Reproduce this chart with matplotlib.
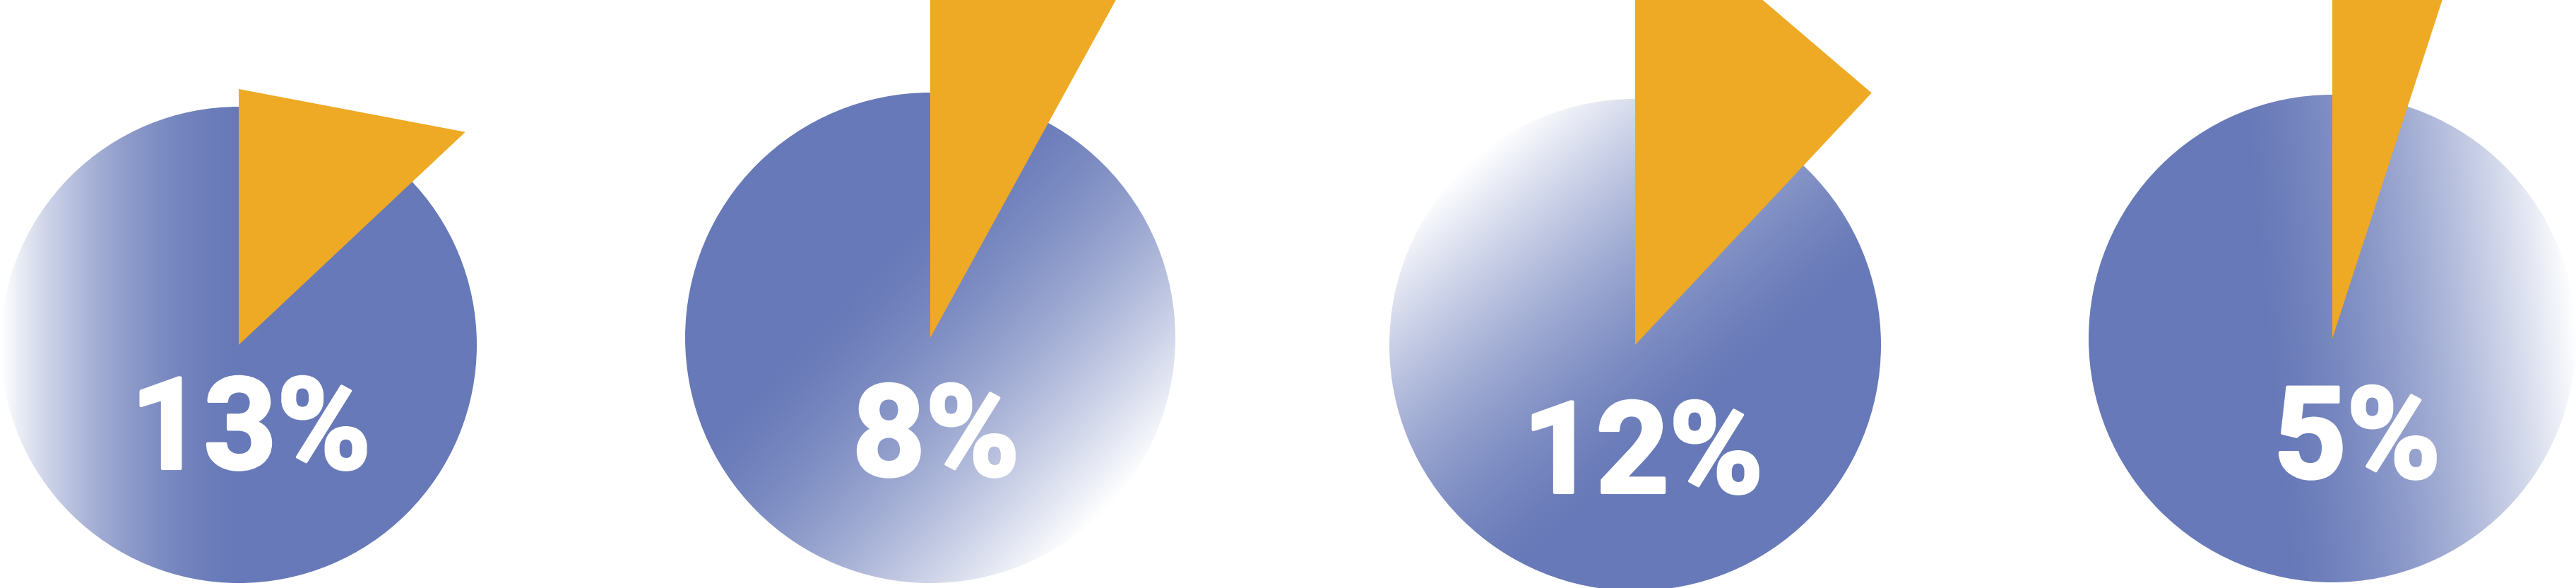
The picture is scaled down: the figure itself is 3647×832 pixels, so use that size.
import numpy as np
import matplotlib
matplotlib.use("Agg")
import matplotlib.pyplot as plt
import matplotlib.patheffects as pe
from matplotlib.patches import Circle, Polygon
from matplotlib.colors import to_rgb

# data
percents = [13, 8, 12, 5]
labels = [f"{p}%" for p in percents]

# layout (pixels, y down)
centers = [(338, 488), (1317, 478), (2315, 488), (3302, 479)]
radii = [337, 347, 348, 345]
# wedge edge lengths: vertical edge, slanted edge
wedge_len = [(362, 440), (700, 700), (642, 489), (700, 700)]
# gradient: direction towards white, start of fade (in r units), easing power
grad_dir = [(-1.0, 0.0), (0.72, 0.69), (-0.66, -0.75), (1.0, -0.1)]
grad_start = [-0.05, -0.4, -0.4, -0.3]
grad_pow = [1.9, 1.5, 1.5, 1.5]
text_off = [(17, 125), (8, 145), (11, 159), (35, 147)]

BLUE = "#6779b8"
ORANGE = "#eea925"

W, H = 3647, 832
fig = plt.figure(figsize=(W / 100, H / 100), dpi=100)
ax = fig.add_axes([0, 0, 1, 1])
ax.set_xlim(0, W)
ax.set_ylim(H, 0)
ax.axis("off")

blue = np.array(to_rgb(BLUE))
white = np.ones(3)

for i, p in enumerate(percents):
    cx, cy = centers[i]
    r = radii[i]
    # gradient filled circle
    n = 500
    xs = np.linspace(-r, r, n)
    gx, gy = np.meshgrid(xs, xs)
    dx, dy = grad_dir[i]
    nrm = np.hypot(dx, dy)
    proj = (gx * dx + gy * dy) / nrm / r
    a = grad_start[i]
    t = np.clip((proj - a) / (1 - a), 0, 1) ** grad_pow[i]
    img = blue[None, None, :] * (1 - t[..., None]) + white[None, None, :] * t[..., None]
    circ = Circle((cx, cy), r, transform=ax.transData, facecolor="none", edgecolor="none")
    ax.add_patch(circ)
    im = ax.imshow(img, extent=(cx - r, cx + r, cy + r, cy - r), interpolation="bilinear", zorder=1)
    im.set_clip_path(circ)

    # orange wedge sized by the percentage
    ang = np.deg2rad(p * 3.6)
    l1, l2 = wedge_len[i]
    pts = [(cx, cy), (cx, cy - l1), (cx + l2 * np.sin(ang), cy - l2 * np.cos(ang))]
    ax.add_patch(Polygon(pts, closed=True, facecolor=ORANGE, edgecolor="none", zorder=2))

    ox, oy = text_off[i]
    ax.text(cx + ox, cy + oy, labels[i], color="white", fontsize=130,
            fontweight="bold", family=["Roboto", "DejaVu Sans"],
            ha="center", va="center", zorder=3,
            path_effects=[pe.withStroke(linewidth=3, foreground="white")])

ax.set_xlim(0, W)
ax.set_ylim(H, 0)
fig.savefig("out.png", dpi=100, facecolor="white")
